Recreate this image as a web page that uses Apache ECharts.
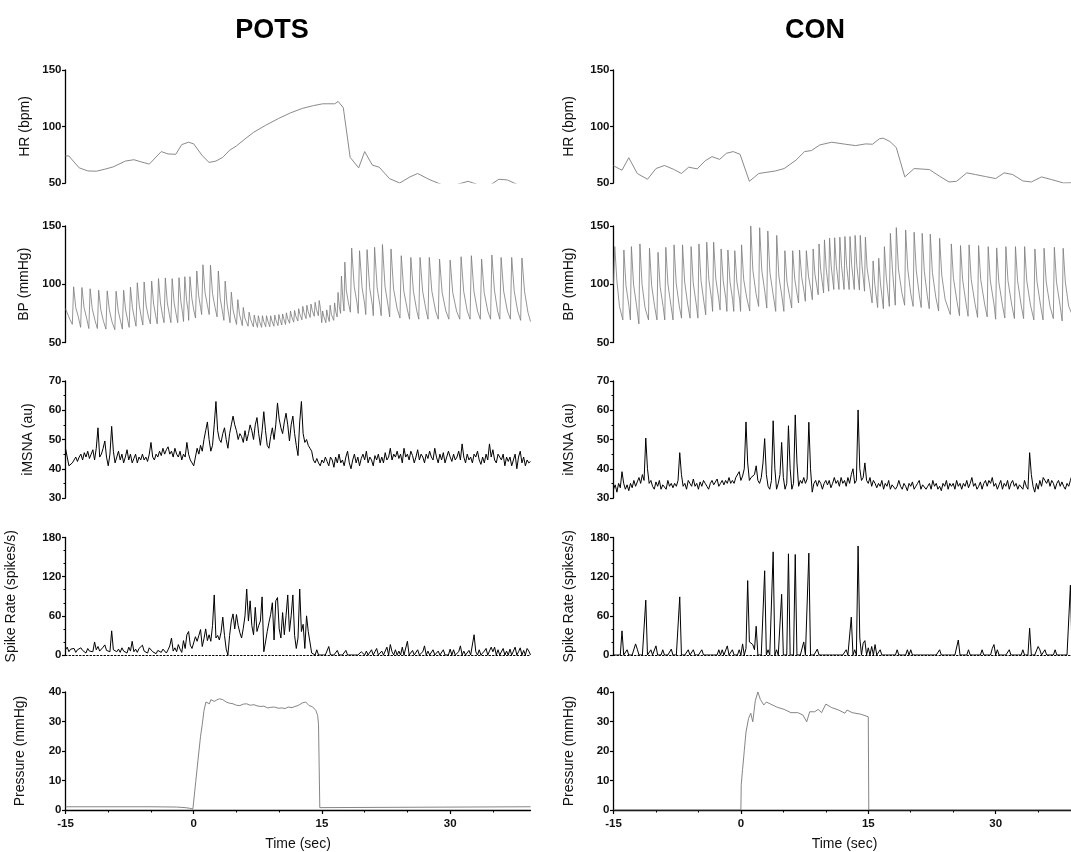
<!DOCTYPE html>
<html><head><meta charset="utf-8">
<script src="https://cdn.jsdelivr.net/npm/echarts@6/dist/echarts.min.js"></script>
<style>html,body{margin:0;padding:0;background:#fff}#c{width:1071px;height:852px}</style>
</head><body><div id="c"></div>
<script>
// ---------- data ----------
const groupTitles = ['POTS', 'CON'];
const timeRange = [-15, 39.4];
const xTickValues = [-15, 0, 15, 30];
const xMinorTickValues = [-10, -5, 5, 10, 20, 25, 35];
const panelNames = ['HR (bpm)', 'BP (mmHg)', 'iMSNA (au)', 'Spike Rate (spikes/s)', 'Pressure (mmHg)'];
const panelRanges = [[50, 150, 50], [50, 150, 50], [30, 70, 10], [0, 180, 60], [0, 40, 10]];
const xName = 'Time (sec)';

const hrPots = [[-15,74],[-14.6,73.9],[-14.2,70.3],[-13.4,63.4],[-12.4,60.7],[-11.4,60.4],[-10.4,62.2],[-9.4,64.3],[-8.0,69.4],[-7.0,70.6],[-6.2,68.8],[-5.2,66.7],[-3.8,77.8],[-3.0,75.7],[-2.1,75.4],[-1.4,84.0],[-0.6,86.1],[0.0,84.6],[1.0,74.2],[1.8,68.2],[2.6,69.4],[3.4,72.7],[4.2,79.0],[5.0,82.8],[6.0,89],[7.0,94.8],[8.4,101],[9.9,107.0],[11.3,112],[12.7,116.0],[14.0,118.5],[15.1,120.1],[16.5,120.1],[16.9,122.2],[17.5,116.6],[18.3,72.7],[19.3,63.4],[20.0,77.8],[20.9,65.8],[21.7,64.0],[22.9,53.9],[24.1,50.0],[25.3,55.4],[26.2,58.4],[27.5,53.3],[29.5,47.0],[30.7,48.5],[32.1,51.5],[33.5,47.9],[34.5,47.3],[35.7,53.3],[36.7,52.7],[37.9,48.5],[39.4,46.1]];
const hrCon = [[-15,65.2],[-14.0,61.3],[-13.2,72.4],[-12.2,58.4],[-11.0,53.3],[-10.0,62.8],[-9.0,65.5],[-7.95,62.2],[-7.0,58.4],[-6.15,64.0],[-5.15,62.5],[-4.2,69.7],[-3.4,73.3],[-2.5,70.9],[-1.7,76.3],[-0.9,77.8],[-0.1,75.4],[1.0,51.5],[2.1,58.4],[4.1,60.7],[5.1,62.8],[6.5,70.3],[7.5,77.8],[8.3,78.7],[9.3,83.7],[10.7,86.1],[12.3,84.3],[13.5,83.1],[14.7,84.6],[15.5,84.3],[16.3,89.1],[16.75,89.7],[17.55,86.7],[18.3,81.3],[19.3,55.4],[20.4,62.8],[22.2,61.9],[23.4,56.0],[24.5,50.9],[25.4,51.5],[26.6,59.0],[27.6,57.5],[28.8,55.7],[30.0,53.9],[31.0,59.0],[32.0,57.5],[33.2,51.8],[34.2,50.9],[35.4,55.4],[36.6,53.0],[38.0,50.0],[39.4,50.3]];

const bpPots = [[-15,79],[-14.5,70],
[-14.2,65.6],[-14.05,97.8],[-13.8,80],[-13.72,81.5],[-13.5,72],
[-13.23,63],[-13.08,97.2],[-12.83,80],[-12.75,81],[-12.5,70],
[-12.27,62],[-12.12,96.1],[-11.87,79],[-11.79,80],[-11.55,69],
[-11.27,62],[-11.12,94.9],[-10.87,78],[-10.79,79],[-10.55,68],
[-10.27,61.5],[-10.12,94.3],[-9.87,78],[-9.79,79],[-9.55,67.5],
[-9.23,61],[-9.08,94],[-8.83,77],[-8.75,78],[-8.55,68],
[-8.35,61.5],[-8.2,94.9],[-7.97,78],[-7.9,79],[-7.72,69],
[-7.55,63],[-7.4,97.5],[-7.17,80],[-7.1,81],[-6.92,70],
[-6.75,64],[-6.6,101.3],[-6.37,82],[-6.3,83],[-6.12,71],
[-5.95,65],[-5.8,101.9],[-5.57,82],[-5.5,83],[-5.3,72],
[-5.07,66],[-4.92,102.7],[-4.69,83],[-4.62,84],[-4.45,73],
[-4.27,66],[-4.12,104.8],[-3.89,84],[-3.82,85],[-3.65,73],
[-3.47,67],[-3.32,105.4],[-3.09,84],[-3.02,85],[-2.85,74],
[-2.67,67],[-2.52,104.8],[-2.29,84],[-2.22,85],[-2.05,74],
[-1.87,67],[-1.72,105.6],[-1.5,85],[-1.43,86],[-1.3,75],
[-1.19,68],[-1.04,106.5],[-0.83,86],[-0.76,87],[-0.65,77],
[-0.59,69],[-0.44,106.5],[-0.22,88],[-0.15,89],[0.0,78],
[0.21,71],[0.36,111.4],[0.58,90],[0.65,91],[0.8,80],
[0.93,74],[1.08,116.7],[1.32,93],[1.4,94],[1.6,82],
[1.81,74],[1.96,116.4],[2.2,92],[2.28,93],[2.5,80],
[2.73,72],[2.88,111.4],[3.1,88],[3.18,89],[3.35,77],
[3.53,69],[3.68,102.7],[3.9,83],[3.97,84],[4.12,73],
[4.25,67],[4.4,93.2],[4.6,78],[4.67,79],[4.85,70],
[5.01,65.5],[5.16,86.8],[5.36,74],[5.43,75],[5.58,68],
[5.68,64.5],[5.8,80.1],[5.98,71],[6.05,72],[6.2,67],
[6.36,64],[6.48,76],[6.65,70],[6.72,70.5],[6.85,66],
[6.98,63.5],[7.08,73.5],[7.23,68.5],
[7.46,63],[7.56,73],[7.71,68],
[7.94,63],[8.04,73],[8.19,68],
[8.42,63.5],[8.52,73],[8.67,68.5],
[8.9,63.5],[9.0,73],[9.15,68.5],
[9.38,64],[9.48,73.5],[9.63,69],
[9.86,64.5],[9.96,74],[10.11,69.5],
[10.3,65],[10.4,74.5],[10.55,70],
[10.74,65.5],[10.84,75.5],[10.99,70.5],
[11.22,66.5],[11.32,77],[11.47,72],
[11.7,67.5],[11.8,77.5],[11.95,72.5],
[12.18,68.5],[12.28,79],[12.43,74],
[12.66,69.5],[12.76,81],[12.91,75.5],
[13.14,70.5],[13.24,82],[13.39,76.5],
[13.62,71.5],[13.72,83],[13.87,77.5],
[14.1,72.5],[14.2,84.5],[14.35,78.5],
[14.58,73],[14.68,86],[14.83,79],
[14.98,67],[15.08,77],[15.23,72],
[15.46,67],[15.56,78],[15.71,72],
[15.86,68],[15.96,82],[16.11,74],
[16.38,69],[16.48,84],[16.63,76],
[16.78,72],[16.88,93],[17.03,81],
[17.18,75],[17.28,107],[17.43,89],
[17.58,77],[17.68,119],[17.85,95],[17.92,96],[18.1,84],
[18.33,76],[18.48,131],[18.78,98],[18.86,99],[19.1,84],
[19.25,75],[19.4,128.8],[19.7,97],[19.78,98],[20.0,83],
[20.13,74],[20.28,129.7],[20.58,97],[20.66,98],[20.9,82],
[21.01,73],[21.16,131.7],[21.46,97],[21.54,98],[21.8,81],
[21.93,73],[22.08,134.1],[22.38,98],[22.46,99],[22.75,81],
[22.93,72],[23.08,130.3],[23.38,96],[23.46,97],[23.8,79],
[24.13,71],[24.28,124.5],[24.58,94],[24.66,95],[25.0,78],
[25.25,70],[25.4,123],[25.7,94],[25.78,95],[26.1,77],
[26.33,70],[26.48,123],[26.78,94],[26.86,95],[27.2,77],
[27.41,70],[27.56,123],[27.86,94],[27.94,95],[28.3,77],
[28.61,70],[28.76,121.6],[29.06,93],[29.14,94],[29.5,77],
[29.85,70],[30.0,120.7],[30.3,93],[30.38,94],[30.75,77],
[31.13,70],[31.28,123.6],[31.58,94],[31.66,95],[32.0,77],
[32.33,70],[32.48,124.5],[32.78,94],[32.86,95],[33.2,77],
[33.53,70],[33.68,121.6],[33.98,93],[34.06,94],[34.4,77],
[34.73,70],[34.88,125.1],[35.18,95],[35.26,96],[35.55,77],
[35.81,70],[35.96,123],[36.26,94],[36.34,95],[36.7,77],
[37.05,70],[37.2,123],[37.5,94],[37.58,95],[37.9,77],
[38.25,69],[38.4,122.5],[38.7,94],[38.78,95],[39.1,76],[39.4,68]];

const bpCon = [[-15,100],[-14.85,132.3],[-14.6,103],[-14.53,104.5],[-14.3,81],
[-13.9,69.4],[-13.78,129.4],[-13.53,99],[-13.46,100.5],[-13.18,81],
[-13.01,69.4],[-12.89,132.3],[-12.64,100],[-12.57,101.5],[-12.29,82],
[-12.01,66],[-11.89,134.6],[-11.64,100],[-11.57,101.5],[-11.29,80],
[-10.88,69.4],[-10.76,130.9],[-10.51,99],[-10.44,100.5],[-10.16,81],
[-9.88,69.4],[-9.76,127.4],[-9.51,98],[-9.44,99.5],[-9.16,81],
[-8.96,69.4],[-8.84,131.7],[-8.59,100],[-8.52,101.5],[-8.24,82],
[-7.99,69.4],[-7.87,133.8],[-7.62,101],[-7.55,102.5],[-7.27,82],
[-6.99,70.9],[-6.87,133.8],[-6.62,102],[-6.55,103.5],[-6.27,83],
[-5.98,70.9],[-5.86,132.3],[-5.61,101],[-5.54,102.5],[-5.26,83],
[-5.06,70.9],[-4.94,134.6],[-4.69,103],[-4.62,104.5],[-4.34,84],
[-4.14,73.8],[-4.02,136.1],[-3.77,104],[-3.7,105.5],[-3.45,87],
[-3.33,76.7],[-3.21,136.1],[-2.96,105],[-2.89,106.5],[-2.62,88],
[-2.45,78],[-2.33,130.3],[-2.08,103],[-2.01,104.5],[-1.78,88],
[-1.65,76.7],[-1.53,129.4],[-1.28,102],[-1.21,103.5],[-0.98,87],
[-0.84,76.7],[-0.72,128.8],[-0.47,102],[-0.4,103.5],[-0.15,87],
[-0.04,76.7],[0.08,133.8],[0.33,104],[0.4,105.5],[0.7,88],
[1.04,77],[1.16,150],[1.41,112],[1.48,113.5],[1.78,92],
[2.09,81],[2.21,148.5],[2.46,112],[2.53,113.5],[2.83,93],
[3.05,79.6],[3.17,145.7],[3.42,110],[3.49,111.5],[3.8,91],
[4.1,76.7],[4.22,141.9],[4.47,107],[4.54,108.5],[4.84,89],
[5.06,76.7],[5.18,128.8],[5.43,102],[5.5,103.5],[5.8,87],
[5.98,79.6],[6.1,128.8],[6.35,104],[6.42,105.5],[6.65,90],
[6.79,83.9],[6.91,129.4],[7.16,106],[7.23,107.5],[7.45,93],
[7.59,85.4],[7.71,128.8],[7.96,107],[8.03,108.5],[8.25,95],
[8.41,86.8],[8.51,130.3],[8.71,109],[8.77,110.5],
[9.1,91],[9.2,134.6],[9.4,112],[9.46,113.5],
[9.74,92.6],[9.84,138.1],[10.04,114],[10.1,115.5],
[10.34,94],[10.44,139.6],[10.64,115],[10.7,116.5],
[10.94,95.5],[11.04,139.9],[11.24,116],[11.3,117.5],
[11.55,95.5],[11.65,140.4],[11.85,116],[11.91,117.5],
[12.15,95.5],[12.25,141],[12.45,116],[12.51,117.5],
[12.75,95.5],[12.85,141],[13.05,116],[13.11,117.5],
[13.35,95.5],[13.45,141.9],[13.65,116],[13.71,117.5],
[13.96,95],[14.06,141.9],[14.26,116],[14.32,117.5],
[14.56,94],[14.66,140.4],[14.86,114],[14.92,115],
[15.45,84],[15.57,120],[15.77,100],[15.83,101],
[16.1,80],[16.23,122.3],[16.43,101],[16.49,102],
[16.78,79],[16.9,132.3],[17.12,106],[17.18,107.5],
[17.48,81],[17.6,143.7],[17.85,112],[17.92,113.5],
[18.18,82],[18.3,148.6],[18.55,113],[18.62,114.5],[18.95,93],
[19.28,82],[19.4,146.6],[19.65,113],[19.72,114.5],[20.0,92],
[20.28,81],[20.4,144.6],[20.65,112],[20.72,113.5],[21.0,91],
[21.23,80],[21.35,143.7],[21.6,111],[21.67,112.5],[21.95,90],
[22.18,79],[22.3,143],[22.55,110],[22.62,111.5],[22.95,89],
[23.28,77],[23.4,139.4],[23.65,108],[23.72,109.5],[24.05,87],
[24.66,74],[24.78,134.6],[25.03,105],[25.1,106.5],[25.45,85],
[25.74,73],[25.86,133.2],[26.11,104],[26.18,105.5],[26.5,84],
[26.75,72.5],[26.87,133.8],[27.12,104],[27.19,105.5],[27.55,84],
[27.87,71.5],[27.99,133.2],[28.24,104],[28.31,105.5],[28.7,83],
[29.0,72],[29.12,132.3],[29.37,103],[29.44,104.5],[29.8,83],
[30.0,70],[30.12,131.2],[30.37,102],[30.44,103.5],[30.8,82],
[31.08,71],[31.2,132.3],[31.45,103],[31.52,104.5],[31.9,82],
[32.21,70.5],[32.33,132.3],[32.58,103],[32.65,104.5],[33.0,82],
[33.29,70.5],[33.41,132.3],[33.66,103],[33.73,104.5],[34.1,82],
[34.5,69.4],[34.62,130.3],[34.87,102],[34.94,103.5],[35.3,81],
[35.58,69.4],[35.7,130.9],[35.95,102],[36.02,103.5],[36.4,81],
[36.79,70.5],[36.91,131.7],[37.16,102],[37.23,103.5],[37.6,81],
[37.83,68.5],[37.95,130.9],[38.2,102],[38.27,103.5],[38.6,81],[39.4,67]];

// sampled traces: one value every sampleStep seconds starting at sampleStart
const sampleStart = -15, sampleStep = 0.2;
const msnaPots = [
47,44,41,40.5,42, 43,44,42.5,44,45, 43,45.5,44,46,43.5, 45,46.5,43,47,54,
44,45,47,49.5,44, 41,45,54.5,46,42, 44,46,43,45,42, 44,46.5,43,45,42,
43.5,45,42,44,43, 45,43,44,42.5,45, 49,44,43,45,44, 46,44.5,47,45,46.5,
47.5,45,46,44,47, 45,44,46,43,45, 44,49,45,43,42,
41,44,47,45,48, 46,50,53,56,50, 46,48,55,63,53, 50,49,52,54,50,
47,52,55,58,55, 53,50,52,51,49, 53,49.5,52,55,53, 50,55,57.5,52,48,
53,59.5,53,48,47, 51,54,50,55,62.5, 57,54,52,56,59, 55,49.5,55,58,52,
48,44.5,56,63,52, 49,50,48,47,46, 43,42,43.5,42,41,
43,42,44,42.5,41, 44,43,40.5,44,42, 45,42,43,41,44, 46,42,40,43,45,
42,44,41,43.5,45, 43,46,42,44,43, 41,44.5,43,45,42, 44,42,45.5,43,44,
47,43,45,44,46, 43.5,45,42,47,44, 45,43,46,44.5,42, 44,46.5,43,45,44,
42,45,43.5,46,44, 43,47,44,42,45, 43,45.5,42,44,46, 44,42.5,45,43,44,
46,43,48.5,44,42, 45,43,44,42,45, 44,46,43,41.5,44, 42,45,43,48.5,44,
46.5,43,42,45,44, 43,45,41,44,42.5, 44,41,43,45,40, 44,46,42,44,41,
43,42,42.5];
const msnaCon = [
33,34.5,32,35,33.5, 39,35,33,34.5,32.5, 35,33.5,36,34,35.5, 37,35,38,36,50.5,
40,35,36,34,33, 35.5,34,36,33,34.5, 35,33,36,34,35, 33.5,35,34,36,45.5,
38,34,35,33,36, 35,34,36.5,34,35, 33,35.5,34,36,35, 34,33,35,36,34.5,
35,36.5,34,35,36, 34.5,36,35,37,35, 36,35,37,36.5,39,
36,37.5,40,56,42, 36,37,37,38,41, 36,35,37,42,50.3, 38,34,33,36,56.4,
40,33,35,38,49, 37,33,35,54.7,40, 33,35,58.4,42,34, 36,35,37,35,36.5,
55.9,40,32,35,36, 34,36,35,33,35, 36,34.5,36,33.5,35, 37,35,36,34,37,
35,36,34,37,35, 38,40,35,36,60.1, 40,36,37,42,36,
35,37,34,36,35, 33.5,35,34,36,33, 35,34,36,33,34.5, 35,33,34,36,34,
33,35,34,32.5,35, 34,35.5,33,34,35, 36,33,34.5,35,33, 34,35,33,36,34,
35,33,34,32.5,35, 34,36,33,35,34, 35,33,36,34,35, 33,35,34,36,33.5,
35,37,34,35,33, 34,35.5,33,35,36, 34,36,35,37,34, 35,33,34.5,36,33,
35,34,36,33,35, 36,34,35,33,34.5, 35,33,36,34,33, 45.5,38,34,32,35,
33,36,34,37,36, 35,36.5,34,36,35, 33,35,36,34,35.5, 34,33,35,34,36,
38,52];
const spikePots = [
8,12,5,9,7, 10,4,8,6,11, 7,9,3,10,6, 9,5,20,8,13,
6,9,12,15.5,7, 10,5,37,8,11, 5,9,4,11,6, 8,3,12,6,21,
5,9,4,10,13, 15,6,9,3,11, 13,5,8,2,7, 10,4,9,12,3,
8,14,26,6,11, 5,16,9,4,22, 10,31,36,15,10,
12,28,21,30,39, 13,25,40,22,31, 21,45,92,26,30, 23,35,58,30,9,
0,30,52,63,40, 62,45,34,26,41, 60,101,52,83,45, 31,73,36,45,52,
89,5,20,36,50, 62,80,23,83,88, 40,26,65,31,60, 92,36,60,92,30,
10,26,101,36,47, 10,60,36,39,3, 0,0,8,0,0,
0,0,0,0,13, 0,0,0,0,7, 0,0,0,0,7, 0,0,0,0,0,
0,0,0,5,8, 0,6,0,0,8, 0,5,10,0,0, 6,0,0,12,0,
16,5,0,8,0, 6,0,12,0,3, 21,0,0,7,0, 0,8,0,0,5,
14,0,6,0,0, 8,0,0,6,0, 0,8,0,0,0, 9,0,8,0,0,
5,14,0,6,0, 0,7,0,0,31, 5,0,8,0,0, 6,10,0,0,12,
5,12,0,8,0, 0,10,0,6,0, 9,0,0,12,0, 5,11,0,7,0,
10,6,0];
const spikeCon = [
0,0,0,0,0, 37,0,0,8,0, 0,0,0,17,9, 0,0,0,0,84,
0,0,8,0,0, 14,0,0,0,8, 0,0,0,0,9, 0,0,0,0,89,
0,0,0,0,8, 0,0,8,0,0, 0,0,8,0,0, 0,0,0,0,0,
0,0,8,0,8, 0,0,14,0,0, 8,0,0,0,8,
0,17,0,10,114, 20,18,16,8,44, 0,0,0,0,129, 0,8,0,0,158,
0,8,0,0,93, 0,0,0,155,0, 0,0,154,0,0, 0,0,20,0,0,
156,0,0,0,0, 9,0,0,0,0, 0,0,0,0,0, 0,0,0,0,0,
0,0,8,0,0, 58,0,8,0,167, 26,0,18,22,0,
11,0,13,0,16, 0,0,8,0,0, 0,0,0,0,0, 0,0,8,0,0,
0,0,0,8,0, 8,0,0,0,0, 0,0,0,0,0, 0,0,0,0,0,
0,0,8,0,0, 0,0,0,0,0, 0,0,0,23,0, 0,0,0,0,8,
0,0,0,0,0, 0,0,8,0,0, 0,0,0,10,16, 0,8,0,0,0,
0,0,0,8,0, 0,0,0,0,0, 0,8,0,0,0, 41,0,0,0,0,
13,8,0,0,8, 0,0,0,0,0, 8,0,0,0,0, 0,0,0,0,107,
0,0];

const pressPots = [[-15,1.1],[-5,1.1],[-2,1.0],[-1,0.8],[-0.5,0.6],[-0.3,0.9],[-0.1,0.3],[0.05,0],[0.24,9.7],[0.55,18.3],[0.8,25],[1.0,29],[1.2,33.7],[1.43,36.6],[1.6,36.3],[1.84,36],[2.0,37.4],[2.2,37],[2.4,36.8],[2.7,37.3],[3.0,37.7],[3.4,37.4],[3.8,36.6],[4.2,36.2],[4.6,36],[5.0,35.5],[5.4,35.4],[5.8,35.9],[6.2,36],[6.6,35.5],[7.05,35.7],[7.4,35.3],[7.85,35.1],[8.2,35.2],[8.65,34.6],[9.0,34.8],[9.45,34.9],[9.9,34.5],[10.3,34.6],[10.7,34.4],[11.05,34.9],[11.5,34.7],[11.85,35.1],[12.2,35.4],[12.7,36.3],[13.1,36.6],[13.5,35.4],[13.9,35],[14.3,33.7],[14.5,32],[14.6,29.1],[14.75,0.8],[14.9,1.1],[39.4,1.1]];
const pressCon = [[-15,0],[0,0],[0.04,8.6],[0.2,13.8],[0.4,20.1],[0.6,26.4],[0.9,31],[1.16,32.8],[1.4,29.9],[1.7,37.1],[2.0,40],[2.3,37.4],[2.7,35.6],[3.0,36.6],[3.5,35.9],[4.3,34.8],[5.1,34.1],[5.9,33],[6.7,33],[7.3,32.2],[7.75,29.9],[8.1,33.3],[8.7,33.3],[9.1,34.1],[9.5,33],[10.0,35.9],[10.7,34.7],[11.5,33.9],[12.25,32.8],[12.5,33.9],[13.1,33],[14.1,32.5],[15.0,31.6],[15.06,0],[39.4,0]];

// ---------- layout / style ----------
const FONT = "'Liberation Sans', Arial, Helvetica, sans-serif";
const columns = [{left: 65.5, width: 465, cx: 272}, {left: 613.5, width: 462, cx: 815}];
const rows = [[70, 183], [226, 342.5], [381, 498], [537.5, 655], [692, 810]];
const nameGaps = [[33, 34, 30, 47, 38], [37, 37, 37, 37, 37]];
const minorSplits = [0, 0, 2, 3, 0];
const lineStyles = [
  {color: '#8a8a8a', width: 1},
  {color: '#7a7a7a', width: 0.8},
  {color: '#000', width: 1},
  {color: '#000', width: 1},
  {color: '#777', width: 0.9}
];

function sampled(vals) {
  return vals.map((v, i) => [+(sampleStart + i * sampleStep).toFixed(2), v]);
}
const panelData = [
  [hrPots, bpPots, sampled(msnaPots), sampled(spikePots), pressPots],
  [hrCon, bpCon, sampled(msnaCon), sampled(spikeCon), pressCon]
];

const grid = [], xAxis = [], yAxis = [], series = [], title = [];
columns.forEach((col, ci) => {
  title.push({text: groupTitles[ci], left: col.cx, top: 17, textAlign: 'center', padding: 0,
    textStyle: {fontFamily: FONT, fontSize: 27, fontWeight: 'bold', color: '#000'}});
  rows.forEach((r, ri) => {
    const gi = grid.length;
    grid.push({left: col.left, top: r[0], width: col.width, height: r[1] - r[0],
      containLabel: false, outerBoundsMode: 'none'});
    const rng = panelRanges[ri];
    const isPress = ri === 4, isSpike = ri === 3;
    const xi = xAxis.length;
    xAxis.push({
      type: 'value', gridIndex: gi, min: timeRange[0], max: timeRange[1], position: 'bottom',
      show: isPress || isSpike,
      axisLine: {show: true, onZero: false, lineStyle: {color: '#000', width: isPress ? 1.3 : 1, type: isSpike ? [1.5, 2] : 'solid'}},
      axisTick: {show: isPress, customValues: xTickValues, length: 4, lineStyle: {color: '#000', width: 1.2}},
      axisLabel: {show: isPress, customValues: xTickValues, margin: 8, fontFamily: FONT, fontSize: 11.5, fontWeight: 'bold', color: '#111'},
      splitLine: {show: false},
      name: isPress ? xName : '', nameLocation: 'middle', nameGap: 27,
      nameTextStyle: {fontFamily: FONT, fontSize: 14, color: '#111'}
    });
    if (isPress) {
      xAxis.push({
        type: 'value', gridIndex: gi, min: timeRange[0], max: timeRange[1], position: 'bottom',
        axisLine: {show: false, onZero: false},
        axisTick: {show: true, customValues: xMinorTickValues, length: 2.5, lineStyle: {color: '#000', width: 1}},
        axisLabel: {show: false}, splitLine: {show: false}
      });
    }
    const yi = yAxis.length;
    yAxis.push({
      type: 'value', gridIndex: gi, min: rng[0], max: rng[1], interval: rng[2],
      axisLine: {show: true, onZero: false, lineStyle: {color: '#000', width: 1.3}},
      axisTick: {show: true, length: 3.5, lineStyle: {color: '#000', width: 1.2}},
      minorTick: {show: minorSplits[ri] > 0, splitNumber: minorSplits[ri] || 5, length: 2, lineStyle: {color: '#000', width: 1}},
      axisLabel: {margin: 4, fontFamily: FONT, fontSize: 11.5, fontWeight: 'bold', color: '#111'},
      splitLine: {show: false},
      name: panelNames[ri], nameLocation: 'middle', nameGap: nameGaps[ci][ri], nameRotate: 90,
      nameTextStyle: {fontFamily: FONT, fontSize: 14, color: '#111'}
    });
    series.push({
      type: 'line', xAxisIndex: xi, yAxisIndex: yi, data: panelData[ci][ri],
      showSymbol: false, symbol: 'none', silent: true, clip: true,
      lineStyle: lineStyles[ri], emphasis: {disabled: true}
    });
  });
});

const chart = echarts.init(document.getElementById('c'), null, {renderer: 'canvas'});
chart.setOption({animation: false, backgroundColor: '#fff', title, grid, xAxis, yAxis, series});
</script></body></html>
